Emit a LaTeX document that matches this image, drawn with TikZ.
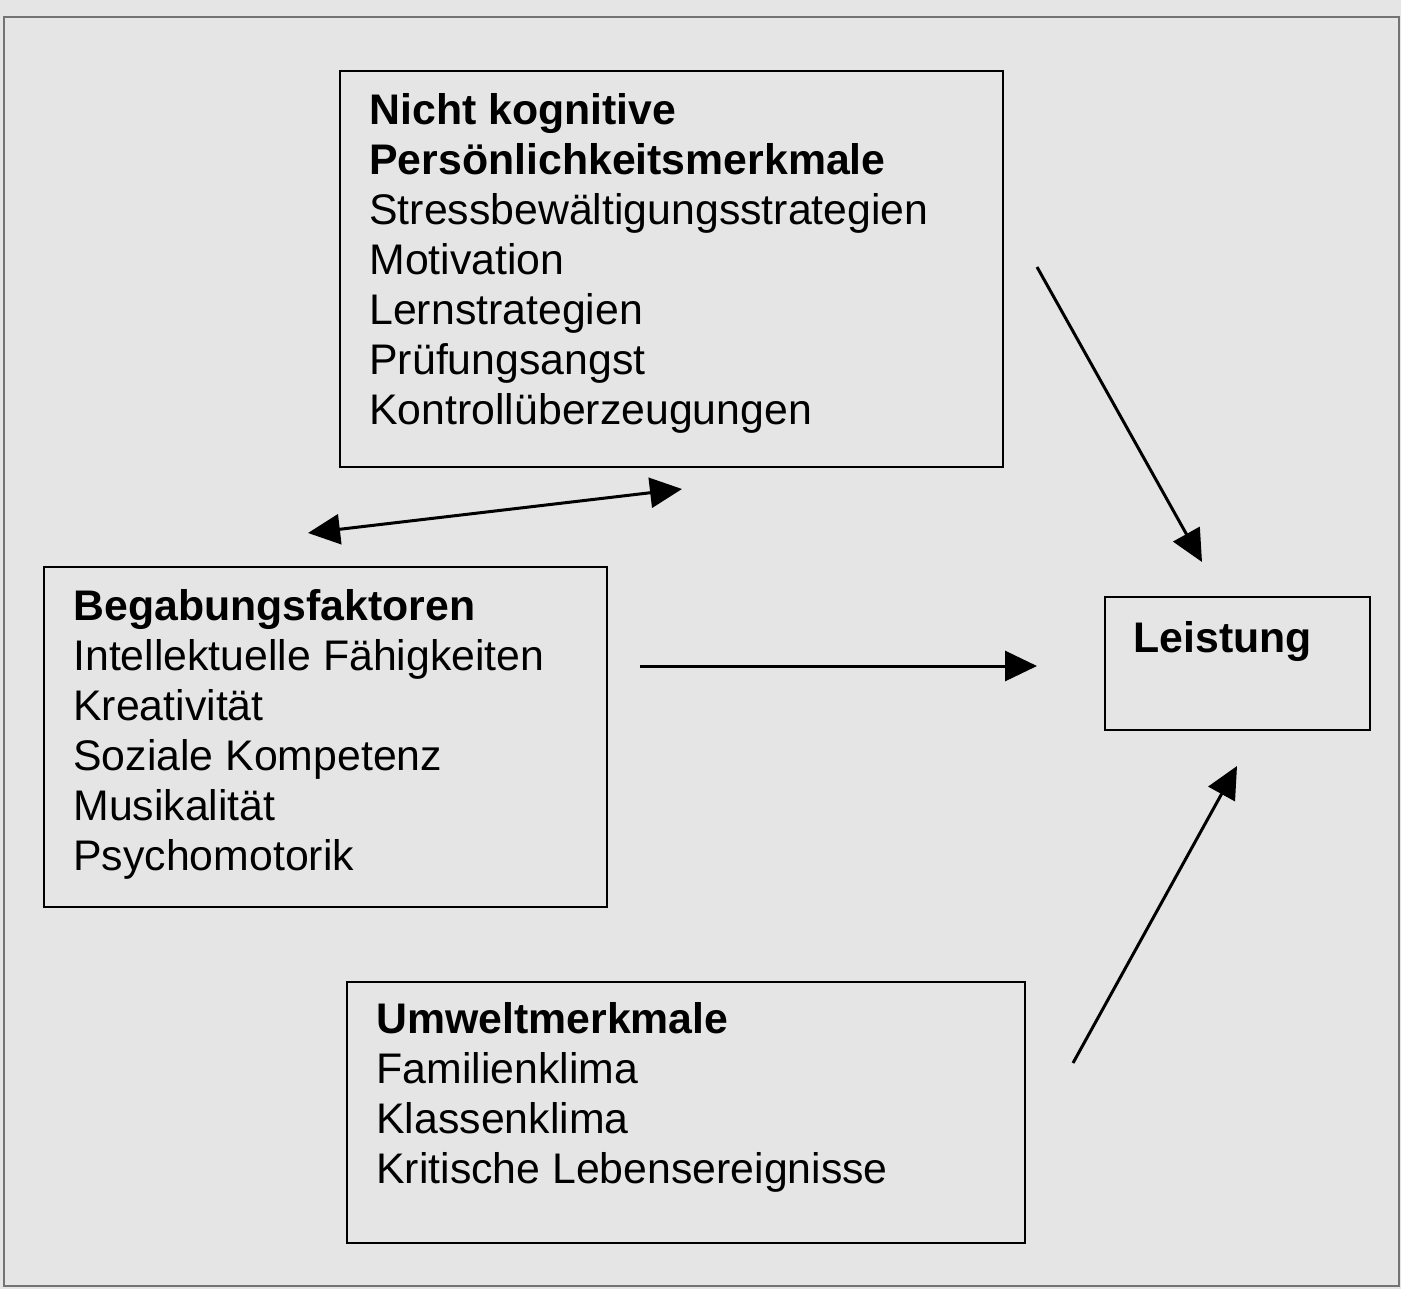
\documentclass[tikz,border=0pt]{standalone}
\usepackage{fontspec}
\setmainfont{Liberation Sans}
\usetikzlibrary{arrows.meta}
\begin{document}
\begin{tikzpicture}[x=0.5pt,y=-0.5pt,
  box/.style={draw=black, line width=1pt, inner sep=0pt, rectangle},
  lbl/.style={anchor=base west, inner sep=0pt, font=\fontsize{21.4}{25}\selectfont},
  conn/.style={line width=1.5pt, -{Triangle[length=16pt,width=15pt]}},
  dconn/.style={line width=1.5pt, {Triangle[length=16pt,width=15pt]}-{Triangle[length=16pt,width=15pt]}},
  ]
\useasboundingbox (0,0) rectangle (1401,1289);
\fill[black!10] (0,0) rectangle (1401,1289);
\draw[black!55, line width=1pt] (4,17) rectangle (1399,1286);

% boxes
\node[box, minimum width=331.5pt, minimum height=198pt] (pers) at (671.5,269) {};
\node[box, minimum width=281.5pt, minimum height=170pt] (beg) at (325.5,737) {};
\node[box, minimum width=339pt, minimum height=130.5pt] (umw) at (686,1112.5) {};
\node[box, minimum width=132.5pt, minimum height=66.5pt] (leis) at (1237.5,663.5) {};

% texts
\node[lbl] (perstext) at (369,125) {\begin{tabular}[t]{@{}l@{}}
\textbf{Nicht kognitive}\\
\textbf{Persönlichkeitsmerkmale}\\
Stressbewältigungsstrategien\\
Motivation\\
Lernstrategien\\
Prüfungsangst\\
Kontrollüberzeugungen
\end{tabular}};
\node[lbl] (begtext) at (73,620) {\begin{tabular}[t]{@{}l@{}}
\textbf{Begabungsfaktoren}\\
Intellektuelle Fähigkeiten\\
Kreativität\\
Soziale Kompetenz\\
Musikalität\\
Psychomotorik
\end{tabular}};
\node[lbl] (umwtext) at (376,1033) {\begin{tabular}[t]{@{}l@{}}
\textbf{Umweltmerkmale}\\
Familienklima\\
Klassenklima\\
Kritische Lebensereignisse
\end{tabular}};
\node[lbl] (leistext) at (1133,652) {\textbf{Leistung}};

% connector ends
\coordinate (dA) at (308,533);
\coordinate (dB) at (682,489);
\coordinate (pS) at (1037,267);
\coordinate (pE) at (1202,562);
\coordinate (bS) at (640,666);
\coordinate (bE) at (1037,666);
\coordinate (uS) at (1073,1063);
\coordinate (uE) at (1237,766);

\draw[dconn] (dA) -- (dB);
\draw[conn] (pS) -- (pE);
\draw[conn] (bS) -- (bE);
\draw[conn] (uS) -- (uE);
\end{tikzpicture}
\end{document}
